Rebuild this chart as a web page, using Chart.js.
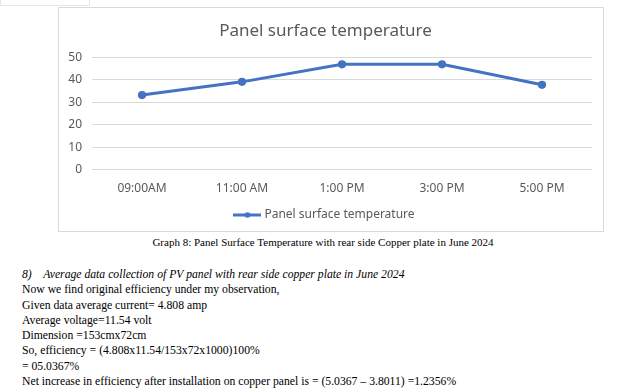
<!DOCTYPE html>
<html lang="en">
<head>
  <meta charset="UTF-8" />
  <title>Panel surface temperature</title>
  <script src="https://cdn.jsdelivr.net/npm/chart.js"></script>
  <style>
    body { margin: 0; background: #fff; width: 624px; height: 391px; position: relative; overflow: hidden; }
    .scrap { position: absolute; left: 0; top: -10px; width: 88px; height: 14px; border: 1px solid #e6e6e6; }
    .chart-box { position: absolute; left: 58px; top: 7px; width: 544px; height: 223px; border: 1px solid #d9d9d9; }
    .caption { position: absolute; left: 0; width: 646px; top: 236px; text-align: center;
      font-family: "Liberation Serif", serif; font-size: 11px; color: #000; }
    .notes { position: absolute; left: 22px; top: 267px; font-family: "Liberation Serif", serif;
      font-size: 11.7px; line-height: 15.3px; color: #000; }
    .notes .head { font-style: italic; }
  </style>
</head>
<body>
  <div class="scrap"></div>
  <div class="chart-box">
    <canvas id="tempChart" width="544" height="223"></canvas>
  </div>
  <div class="caption">Graph 8: Panel Surface Temperature with rear side Copper plate in June 2024</div>
  <div class="notes">
    <div class="head">8)&nbsp;&nbsp;&nbsp; Average data collection of PV panel with rear side copper plate in June 2024</div>
    <div>Now we find original efficiency under my observation,</div>
    <div>Given data average current= 4.808 amp</div>
    <div>Average voltage=11.54 volt</div>
    <div>Dimension =153cmx72cm</div>
    <div>So, efficiency = (4.808x11.54/153x72x1000)100%</div>
    <div>= 05.0367%</div>
    <div>Net increase in efficiency after installation on copper panel is = (5.0367 – 3.8011) =1.2356%</div>
  </div>

  <script>
    const times = ['09:00AM', '11:00 AM', '1:00 PM', '3:00 PM', '5:00 PM'];
    const panelTemp = [33.2, 39.1, 46.9, 46.9, 37.8];
    const yTicks = [0, 10, 20, 30, 40, 50];

    const blue = '#4472C4';
    const grey = '#595959';

    // legend marker: line with a dot, like the office chart
    const marker = document.createElement('canvas');
    marker.width = 28; marker.height = 8;
    const mctx = marker.getContext('2d');
    mctx.strokeStyle = blue; mctx.lineWidth = 3;
    mctx.beginPath(); mctx.moveTo(0, 4); mctx.lineTo(28, 4); mctx.stroke();
    mctx.fillStyle = blue;
    mctx.beginPath(); mctx.arc(14, 4, 2.8, 0, Math.PI * 2); mctx.fill();

    new Chart(document.getElementById('tempChart'), {
      type: 'line',
      data: {
        labels: times,
        datasets: [{
          label: 'Panel surface temperature',
          data: panelTemp,
          borderColor: blue,
          backgroundColor: blue,
          borderWidth: 3,
          pointRadius: 2.6,
          pointHoverRadius: 2.6,
          tension: 0
        }]
      },
      options: {
        responsive: false,
        animation: false,
        layout: { padding: { left: 0, right: 11, top: 0, bottom: 0 } },
        plugins: {
          title: {
            display: true,
            text: 'Panel surface temperature',
            color: grey,
            font: { family: 'Noto Sans', size: 17, weight: 'normal' },
            padding: { top: 13, bottom: 16 }
          },
          legend: {
            position: 'bottom',
            labels: {
              color: grey,
              font: { family: 'Noto Sans', size: 12 },
              usePointStyle: true,
              pointStyle: marker,
              pointStyleWidth: 22,
              padding: 10
            }
          },
          tooltip: { enabled: false }
        },
        scales: {
          x: {
            offset: true,
            grid: { display: false },
            border: { display: false },
            afterFit: s => { s.height -= 1; },
            ticks: { color: grey, font: { family: 'Noto Sans', size: 12 }, padding: 4, maxRotation: 0 }
          },
          y: {
            min: 0,
            max: 50,
            afterBuildTicks: s => { s.ticks = yTicks.map(v => ({ value: v })); },
            afterFit: s => { s.width = 33; },
            grid: { color: '#d9d9d9', drawTicks: false },
            border: { display: false },
            ticks: { color: grey, font: { family: 'Noto Sans', size: 12 }, padding: 10 }
          }
        }
      }
    });
  </script>
</body>
</html>
